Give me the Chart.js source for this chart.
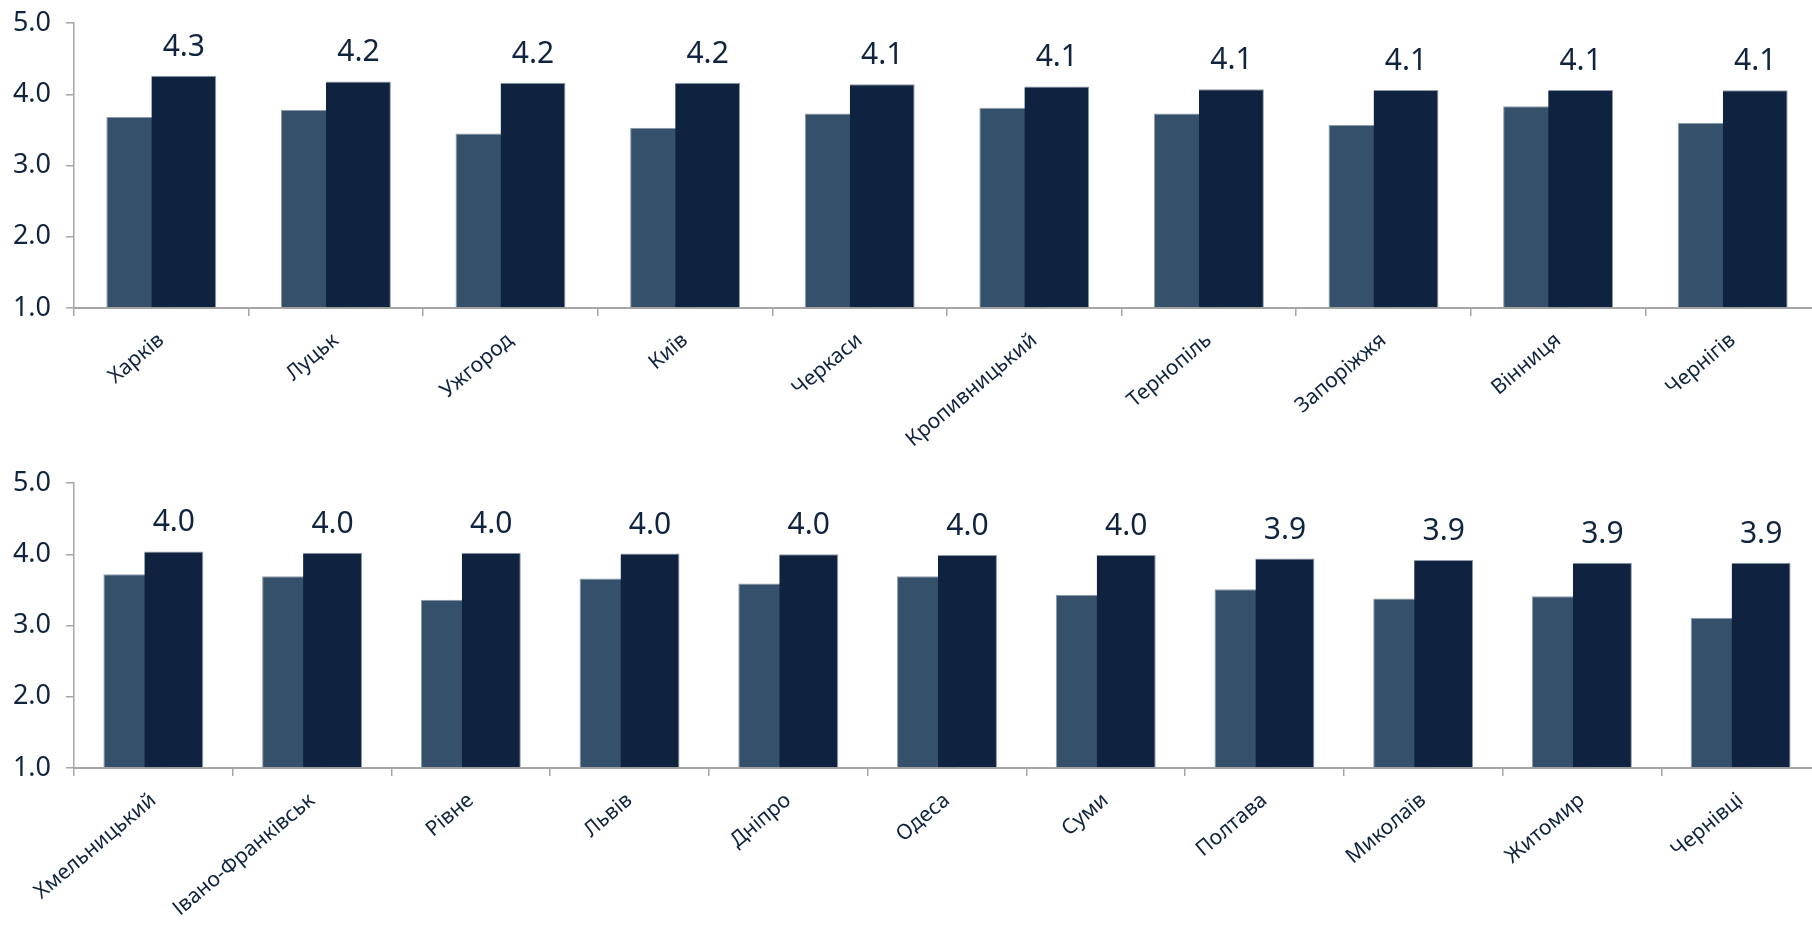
<!DOCTYPE html>
<html><head><meta charset="utf-8">
<script src="https://cdn.jsdelivr.net/npm/chart.js@4.4.1/dist/chart.umd.min.js"></script>
<style>
html,body{margin:0;padding:0;background:#fff;overflow:hidden;}
#wrap{position:relative;width:1812px;height:935px;overflow:hidden;background:#fff;}
.box{position:absolute;left:0;width:1820px;}
#b1{top:0;height:480px}
#b2{top:440px;height:495px}
</style></head><body>
<div id="wrap">
<div class="box" id="b1"><canvas id="c1"></canvas></div>
<div class="box" id="b2"><canvas id="c2"></canvas></div>
</div>
<script>
// ---- data ----
const citiesTop = ['Харків','Луцьк','Ужгород','Київ','Черкаси','Кропивницький','Тернопіль','Запоріжжя','Вінниця','Чернігів'];
const prevTop = [3.68, 3.78, 3.45, 3.53, 3.73, 3.81, 3.73, 3.57, 3.83, 3.60];
const currTop = [4.26, 4.18, 4.16, 4.16, 4.14, 4.11, 4.07, 4.06, 4.06, 4.055];

const citiesBottom = ['Хмельницький','Івано-Франківськ','Рівне','Львів','Дніпро','Одеса','Суми','Полтава','Миколаїв','Житомир','Чернівці'];
const prevBottom = [3.72, 3.69, 3.36, 3.66, 3.59, 3.69, 3.43, 3.51, 3.38, 3.41, 3.11];
const currBottom = [4.04, 4.02, 4.02, 4.01, 4.00, 3.99, 3.99, 3.94, 3.92, 3.88, 3.88];

const yMin = 1, yMax = 5, yStep = 1;

// ---- style ----
const NAVY = '#10243f';
const DARK = '#0f2340';
const LIGHT = '#34506b';
const EDGE = '#8e9aa8';
const AXIS = '#a6a6a6';
const FONT = "'Noto Sans', 'DejaVu Sans', sans-serif";

const valueLabels = {
  id: 'valueLabels',
  afterDatasetsDraw(chart) {
    const ctx = chart.ctx;
    const meta = chart.getDatasetMeta(1);
    const vals = chart.data.datasets[1].data;
    ctx.save();
    ctx.font = '30px ' + FONT;
    ctx.fillStyle = NAVY;
    ctx.textAlign = 'center';
    ctx.textBaseline = 'alphabetic';
    meta.data.forEach((el, i) => {
      const t = (Math.round(vals[i] * 10) / 10).toFixed(1);
      ctx.fillText(t, el.x, el.y - 20);
    });
    ctx.restore();
  }
};

function makeChart(id, labels, prev, curr, padTop, xHeight) {
  return new Chart(document.getElementById(id), {
    type: 'bar',
    data: {
      labels: labels,
      datasets: [
        { label: '_spacer', data: labels.map(() => null), stack: 'a', base: yMin },
        { label: 'curr', data: curr, stack: 'b', base: yMin,
          backgroundColor: DARK, borderColor: EDGE,
          borderWidth: {top: 1, right: 1, left: 0, bottom: 0}, borderSkipped: false,
          categoryPercentage: 0.516, barPercentage: 1.44 },
        { label: 'prev', data: prev, stack: 'a', base: yMin,
          backgroundColor: LIGHT, borderColor: EDGE,
          borderWidth: {top: 1, left: 1, right: 0, bottom: 0}, borderSkipped: false,
          categoryPercentage: 0.516, barPercentage: 1.44 }
      ]
    },
    options: {
      responsive: true, maintainAspectRatio: false, animation: false, devicePixelRatio: 1,
      categoryPercentage: 0.516, barPercentage: 1.44,
      layout: { padding: { top: padTop, left: 0, right: 0, bottom: 0 } },
      plugins: { legend: { display: false }, tooltip: { enabled: false } },
      scales: {
        x: {
          type: 'category', offset: true,
          grid: { offset: true, drawOnChartArea: false, drawTicks: true, tickLength: 8, color: AXIS, lineWidth: 1.5 },
          border: { display: true, color: AXIS, width: 2 },
          ticks: { autoSkip: false, minRotation: 40, maxRotation: 40, padding: 12,
                   color: NAVY, font: { family: FONT, size: 21 } },
          afterFit(s) { s.height = xHeight; }
        },
        y: {
          min: yMin, max: yMax, stacked: false,
          grid: { drawOnChartArea: false, drawTicks: true, tickLength: 8, color: AXIS, lineWidth: 1.5 },
          border: { display: true, color: AXIS, width: 1.5 },
          ticks: { stepSize: yStep, padding: 15, color: NAVY, font: { family: FONT, size: 27 },
                   callback: v => Number(v).toFixed(1) },
          afterFit(s) { s.width = 74; s.paddingTop = 0; s.paddingBottom = 0; }
        }
      }
    },
    plugins: [valueLabels]
  });
}

makeChart('c1', citiesTop, prevTop, currTop, 23, 172);
makeChart('c2', citiesBottom, prevBottom, currBottom, 43, 167);
</script>
</body></html>
